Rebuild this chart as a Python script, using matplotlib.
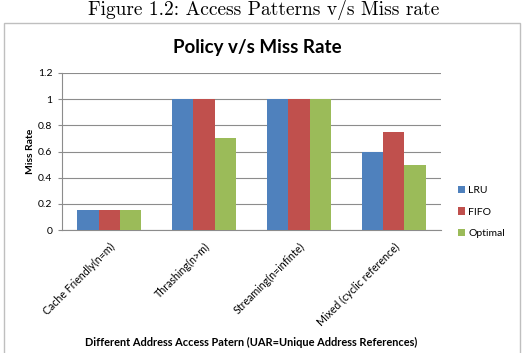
import numpy as np
import matplotlib
matplotlib.use('Agg')
import matplotlib.pyplot as plt
from matplotlib.patches import Rectangle

categories = ['Cache Friendly(n=m)', 'Thrashing(n>m)', 'Streaming(n=infinte)', 'Mixed (cyclic reference)']
series_names = ['LRU', 'FIFO', 'Optimal']
lru = [0.15, 1.0, 1.0, 0.6]
fifo = [0.15, 1.0, 1.0, 0.75]
optimal = [0.15, 0.7, 1.0, 0.5]
colors = ['#4F81BD', '#C0504D', '#9BBB59']

plt.rcParams['font.family'] = ['Lato', 'DejaVu Sans']

fig = plt.figure(figsize=(5.28, 3.53), dpi=100)

# caption above the chart box
fig.text(0.5, 0.972, 'Figure 1.2: Access Patterns v/s Miss rate', ha='center', va='center',
         fontsize=14, family=['cmr10', 'DejaVu Serif'])

# chart frame
fig.patches.append(Rectangle((4 / 528, -0.02), 516 / 528, 1 - 23 / 353 + 0.02,
                             transform=fig.transFigure, fill=False,
                             edgecolor='#bfbfbf', linewidth=1.0))

fig.text(0.488, 1 - 47 / 353, 'Policy v/s Miss Rate', ha='center', va='center',
         fontsize=13.5, fontweight='bold')

ax = fig.add_axes([62 / 528, 1 - 230 / 353, 379 / 528, 157 / 353])
x = np.arange(len(categories))
w = 0.225
for i, (vals, name) in enumerate(zip([lru, fifo, optimal], series_names)):
    ax.bar(x + (i - 1) * w, vals, w, color=colors[i], label=name, zorder=3)

ax.set_xlim(-0.5, 3.5)
ax.set_ylim(0, 1.2)
ax.set_yticks(np.arange(0, 1.21, 0.2))
ax.set_yticklabels(['0', '0.2', '0.4', '0.6', '0.8', '1', '1.2'])
ax.yaxis.grid(True, color='#8c8c8c', linewidth=0.8, zorder=0)
ax.set_xticks(x)
ax.set_xticklabels(categories, rotation=45, ha='right', rotation_mode='anchor', fontsize=7.7)
ax.tick_params(axis='x', length=0, pad=8)
ax.tick_params(axis='y', length=3, color='#8c8c8c', labelsize=7.5, pad=4)
for s in ['top', 'right']:
    ax.spines[s].set_visible(False)
ax.spines['left'].set_color('#8c8c8c')
ax.spines['bottom'].set_color('#8c8c8c')

ax.set_ylabel('Miss Rate', fontsize=7.5, fontweight='bold', labelpad=2)
fig.text(251 / 528, 1 - 342 / 353, 'Different Address Access Patern (UAR=Unique Address References)',
         ha='center', va='center', fontsize=7.9, fontweight='bold')

ax.legend(loc='center left', bbox_to_anchor=(1.02, 0.115), frameon=False, fontsize=7.5,
          handlelength=0.7, handleheight=0.7, handletextpad=0.3, labelspacing=1.2)

fig.savefig('out.png', dpi=100)
